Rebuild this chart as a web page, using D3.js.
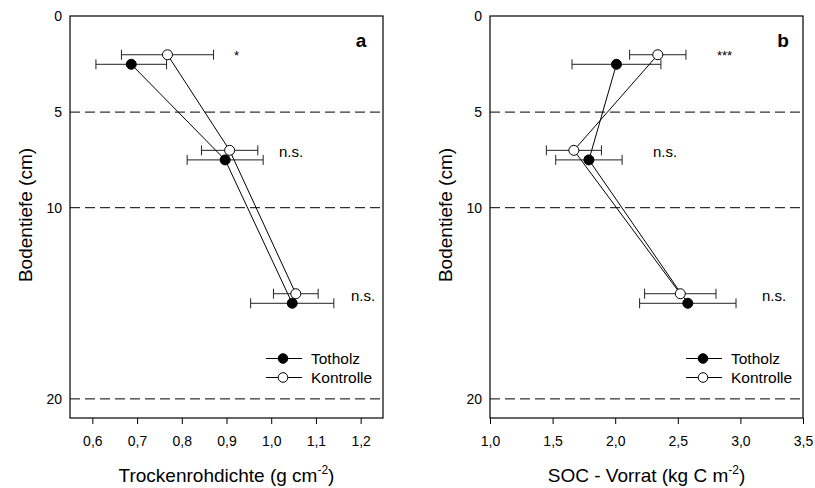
<!DOCTYPE html>
<style>
    body { margin: 0; background: #fff; }
    text { font-family: "Liberation Sans", Arial, sans-serif; }
</style>
<svg width="815" height="488"></svg>
<script src="https://d3js.org/d3.v7.min.js"></script>
<script>
    // depths (cm) of the plotted points
    var depthTotholz = [2.5, 7.5, 15];
    var depthKontrolle = [2, 7, 14.5];
    var depthTicks = [0, 5, 10, 20];
    var dashedDepths = [5, 10, 20];

    // panel a: Trockenrohdichte
    var densTotholz = [0.687, 0.897, 1.047];
    var densTotholzErr = [0.079, 0.085, 0.093];
    var densKontrolle = [0.768, 0.907, 1.055];
    var densKontrolleErr = [0.103, 0.063, 0.050];
    var densTicks = [0.6, 0.7, 0.8, 0.9, 1.0, 1.1, 1.2];
    var densSig = ['*', 'n.s.', 'n.s.'];

    // panel b: SOC-Vorrat
    var socTotholz = [2.01, 1.79, 2.58];
    var socTotholzErr = [0.355, 0.265, 0.385];
    var socKontrolle = [2.34, 1.67, 2.52];
    var socKontrolleErr = [0.225, 0.22, 0.285];
    var socTicks = [1.0, 1.5, 2.0, 2.5, 3.0, 3.5];
    var socSig = ['***', 'n.s.', 'n.s.'];

    var svg = d3.select('svg');
    var fmt = function (d) { return d3.format('.1f')(d).replace('.', ','); };

    function panel(opt) {
        var left = opt.left, right = opt.left + 313, top = 16, bottom = 418;
        var x = d3.scaleLinear().domain(opt.domain).range([left, right]);
        var y = d3.scaleLinear().domain([0, 21]).range([top + 0.5, bottom]);
        var g = svg.append('g');

        // dashed depth lines
        g.selectAll('line.dash')
            .data(dashedDepths)
            .enter().append('line')
            .attr('x1', left).attr('x2', right)
            .attr('y1', function (d) { return y(d); })
            .attr('y2', function (d) { return y(d); })
            .attr('stroke', '#000')
            .attr('stroke-width', 1)
            .attr('stroke-dasharray', '10,5');

        // x axis
        var xAxis = d3.axisBottom(x).tickValues(opt.ticks).tickFormat(fmt).tickSize(6).tickPadding(12);
        var ax = g.append('g').attr('transform', 'translate(0,' + bottom + ')').call(xAxis);
        ax.select('.domain').remove();
        ax.attr('font-size', 14).attr('font-family', null);
        ax.selectAll('text').attr('fill', '#000');

        // y labels (no ticks)
        g.selectAll('text.ylab')
            .data(depthTicks)
            .enter().append('text')
            .attr('x', left - 8)
            .attr('y', function (d) { return y(d); })
            .attr('dy', '0.35em')
            .attr('text-anchor', 'end')
            .attr('font-size', 14)
            .text(function (d) { return d; });

        // frame
        g.append('rect')
            .attr('x', left).attr('y', top)
            .attr('width', right - left).attr('height', bottom - top)
            .attr('fill', 'none').attr('stroke', '#000').attr('stroke-width', 1.2);

        var series = [
            { v: opt.tot, e: opt.totErr, d: depthTotholz, fill: '#000' },
            { v: opt.kon, e: opt.konErr, d: depthKontrolle, fill: '#fff' }
        ];

        var line = d3.line()
            .x(function (d) { return x(d[0]); })
            .y(function (d) { return y(d[1]); });

        series.forEach(function (s) {
            var pts = s.v.map(function (v, i) { return [v, s.d[i], s.e[i]]; });
            g.append('path')
                .datum(pts)
                .attr('d', line)
                .attr('fill', 'none')
                .attr('stroke', '#000')
                .attr('stroke-width', 1);
            var eb = g.selectAll(null).data(pts).enter().append('g');
            eb.append('line')
                .attr('x1', function (d) { return x(d[0] - d[2]); })
                .attr('x2', function (d) { return x(d[0] + d[2]); })
                .attr('y1', function (d) { return y(d[1]); })
                .attr('y2', function (d) { return y(d[1]); })
                .attr('stroke', '#222');
            [-1, 1].forEach(function (sgn) {
                eb.append('line')
                    .attr('x1', function (d) { return x(d[0] + sgn * d[2]); })
                    .attr('x2', function (d) { return x(d[0] + sgn * d[2]); })
                    .attr('y1', function (d) { return y(d[1]) - 5; })
                    .attr('y2', function (d) { return y(d[1]) + 5; })
                    .attr('stroke', '#222');
            });
        });
        series.forEach(function (s) {
            g.selectAll(null)
                .data(s.v)
                .enter().append('circle')
                .attr('cx', function (d) { return x(d); })
                .attr('cy', function (d, i) { return y(s.d[i]); })
                .attr('r', 5)
                .attr('fill', s.fill)
                .attr('stroke', '#000')
                .attr('stroke-width', 1);
        });

        // significance labels
        g.selectAll('text.sig')
            .data(opt.sig)
            .enter().append('text')
            .attr('x', function (d, i) { return opt.sigX[i]; })
            .attr('y', function (d, i) { return y(depthKontrolle[i]) + (d === 'n.s.' ? 7 : 5); })
            .attr('font-size', function (d) { return d === 'n.s.' ? 15 : 13; })
            .text(function (d) { return d; });

        // panel letter
        g.append('text')
            .attr('x', right - opt.letterOff).attr('y', 47)
            .attr('text-anchor', 'middle')
            .attr('font-size', 19).attr('font-weight', 'bold')
            .text(opt.letter);

        // legend
        var lx = opt.legendX;
        [['Totholz', '#000', 358.5], ['Kontrolle', '#fff', 377.5]].forEach(function (l) {
            g.append('line')
                .attr('x1', lx).attr('x2', lx + 36)
                .attr('y1', l[2]).attr('y2', l[2])
                .attr('stroke', '#000');
            g.append('circle')
                .attr('cx', lx + 17).attr('cy', l[2]).attr('r', 4.8)
                .attr('fill', l[1]).attr('stroke', '#000');
            g.append('text')
                .attr('x', lx + 45).attr('y', l[2])
                .attr('dy', '0.36em')
                .attr('font-size', 15.5)
                .text(l[0]);
        });

        // axis titles
        var xt = g.append('text')
            .attr('x', (left + right) / 2).attr('y', 482)
            .attr('text-anchor', 'middle')
            .attr('font-size', 19);
        xt.append('tspan').text(opt.xTitle);
        xt.append('tspan').attr('font-size', 12).attr('dy', -8).text('-2');
        xt.append('tspan').attr('dy', 8).text(')');

        g.append('text')
            .attr('transform', 'translate(' + (left - 38) + ',' + ((top + bottom) / 2 - 2) + ') rotate(-90)')
            .attr('text-anchor', 'middle')
            .attr('font-size', 19)
            .text('Bodentiefe (cm)');
    }

    panel({
        left: 70, domain: [0.55, 1.25], ticks: densTicks,
        tot: densTotholz, totErr: densTotholzErr,
        kon: densKontrolle, konErr: densKontrolleErr,
        sig: densSig, sigX: [234, 279, 351],
        letter: 'a', letterOff: 22, legendX: 266,
        xTitle: 'Trockenrohdichte (g cm'
    });

    panel({
        left: 490, domain: [1.0, 3.5], ticks: socTicks,
        tot: socTotholz, totErr: socTotholzErr,
        kon: socKontrolle, konErr: socKontrolleErr,
        sig: socSig, sigX: [717, 653, 762],
        letter: 'b', letterOff: 20, legendX: 686,
        xTitle: 'SOC - Vorrat (kg C m'
    });
</script>
